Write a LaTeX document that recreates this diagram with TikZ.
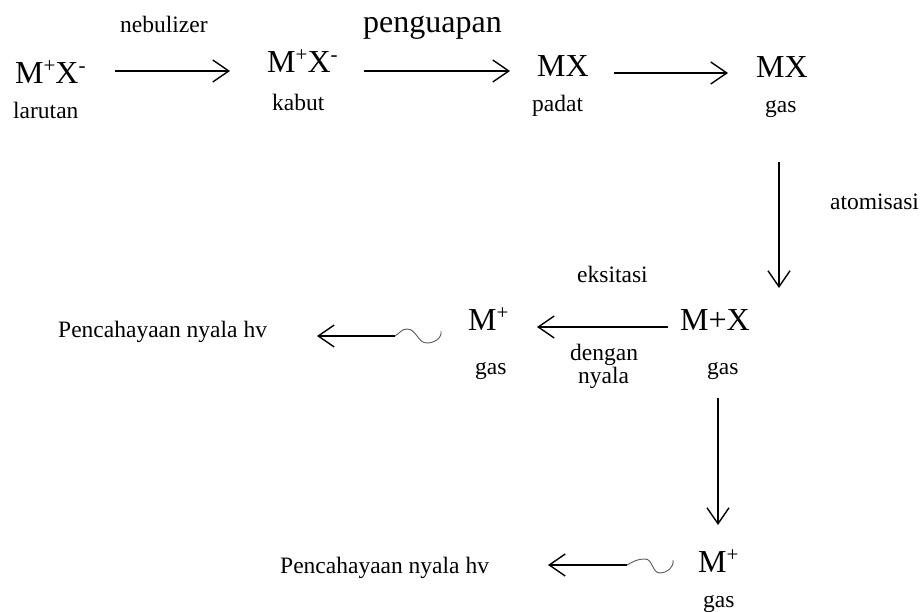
\documentclass[tikz,border=0pt]{standalone}
\usepackage{fontspec}
\setmainfont{Liberation Serif}
\usepackage{tikz}
\usetikzlibrary{arrows.meta, positioning, calc}
\definecolor{mink}{HTML}{000000}
\definecolor{mwave}{HTML}{5A5A5A}
\newcommand{\ionch}[1]{\raisebox{11pt}{\fontsize{21}{21}\selectfont #1}}
\tikzset{
  big/.style={anchor=base west, inner sep=0pt, text=mink,
              font=\fontsize{32}{38}\selectfont},
  sml/.style={anchor=base west, inner sep=0pt, text=mink,
              font=\fontsize{23.5}{28}\selectfont},
  arr/.style={-{Straight Barb[length=16pt,width=22pt]}, line width=1.4pt, mink},
  wav/.style={draw=mwave, line width=0.9pt},
}
\begin{document}
\begin{tikzpicture}[x=1pt, y=-1pt]
  \useasboundingbox (0,0) rectangle (923,612);
  % top row
  \node[big] (ion1) at (15,84)   {M\ionch{+}X\ionch{-}};
  \node[sml] (lar)  at (13,119)  {larutan};
  \node[sml] (neb)  at (120,33)  {nebulizer};
  \node[big] (ion2) at (267,73)  {M\ionch{+}X\ionch{-}};
  \node[sml] (kab)  at (272,111) {kabut};
  \node[big] (peng) at (363,33)  {penguapan};
  \node[big] (mxs)  at (537,77)  {MX};
  \node[sml] (pad)  at (532,112) {padat};
  \node[big] (mxg)  at (756,78)  {MX};
  \node[sml] (gas1) at (765,113) {gas};
  \node[sml] (atom) at (830,210) {atomisasi};
  % middle row
  \node[sml] (eks)  at (577,282) {eksitasi};
  \node[big] (mpx)  at (680,330) {M+X};
  \node[sml] (gas2) at (707,374) {gas};
  \node[big] (mp1)  at (468,330) {M\ionch{+}};
  \node[sml] (gas3) at (475,374) {gas};
  \node[sml] (deng) at (570,360) {dengan};
  \node[sml] (nyl)  at (578,383) {nyala};
  \node[sml] (pc1)  at (58,337)  {Pencahayaan nyala hv};
  % bottom row
  \node[big] (mp2)  at (698,572) {M\ionch{+}};
  \node[sml] (gas4) at (703,607) {gas};
  \node[sml] (pc2)  at (280,573) {Pencahayaan nyala hv};

  \draw[arr] ([shift={(100,-13)}]ion1.base west) -- ([shift={(-37,-2)}]ion2.base west);
  \draw[arr] ([shift={(97,-2)}]ion2.base west) -- ([shift={(-27,-6)}]mxs.base west);
  \draw[arr] ([shift={(77,-4)}]mxs.base west) -- ([shift={(-28,-5)}]mxg.base west);
  \draw[arr] ([shift={(23,84)}]mxg.base west) -- ([shift={(99,-42)}]mpx.base west);
  \draw[arr] ([shift={(-12,-3)}]mpx.base west) -- ([shift={(69,-3)}]mp1.base west);
  \draw[arr] ([shift={(38,68)}]mpx.base west) -- ([shift={(20,-47)}]mp2.base west);

  % emission waves
  \coordinate (w1) at ([shift={(-73,6)}]mp1.base west);
  \coordinate (w2) at ([shift={(-71,-7)}]mp2.base west);
  \draw[wav] ([shift={(-27,1)}]mp1.base west) to[out=-80,in=0] (427,343)
    to[out=180,in=0] (407,329) to[out=180,in=30] (w1);
  \draw[arr] (w1) -- ([shift={(259,-1)}]pc1.base west);
  \draw[wav] ([shift={(-25,-12)}]mp2.base west) to[out=-80,in=0] (660,573)
    to[out=180,in=0] (645,559) to[out=180,in=30] (w2);
  \draw[arr] (w2) -- ([shift={(268,-8)}]pc2.base west);
\end{tikzpicture}
\end{document}
